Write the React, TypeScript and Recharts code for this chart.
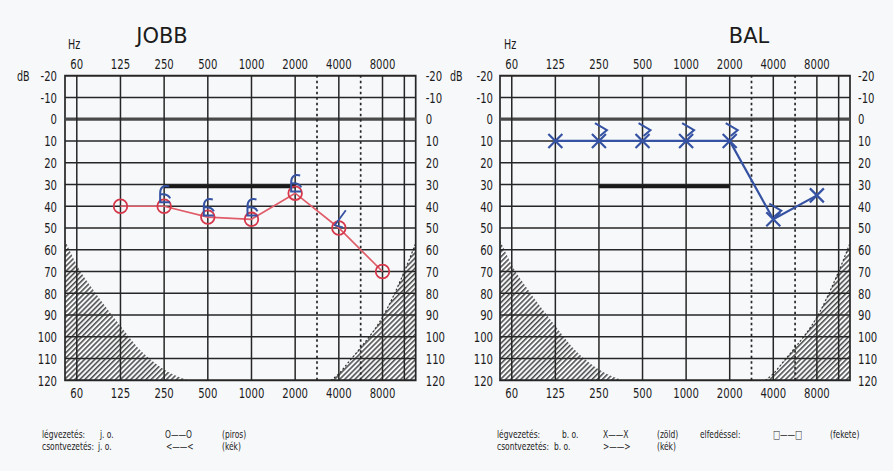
import React from 'react';
import { ComposedChart, Line, Area, XAxis, YAxis, ReferenceLine, ReferenceArea } from 'recharts';

// frequency axis: octave index, 60 Hz = 0 ... 8000 Hz = 7
const freqPos = [0, 1, 2, 3, 4, 5, 6, 7];
const freqLabels = ['60', '125', '250', '500', '1000', '2000', '4000', '8000'];
const halfOctaveDotted = [5.5, 6.5];
const halfOctaveSolid = [7.5];
const dbTicks = [-20, -10, 0, 10, 20, 30, 40, 50, 60, 70, 80, 90, 100, 110, 120];

// JOBB (right ear)
const jobbLegFreq = [1, 2, 3, 4, 5, 6, 7];
const jobbLegDb = [40, 40, 45, 46, 34, 50, 70];
const jobbCsontFedettFreq = [2, 3, 4, 5];
const jobbCsontFedettDb = [35, 41, 41, 30];
const jobbCsontFreq = [6];
const jobbCsontDb = [46];
const jobbSavFreq = [2, 5];
const jobbSavDb = [31, 31];

// BAL (left ear)
const balLegFreq = [1, 2, 3, 4, 5, 6, 7];
const balLegDb = [10, 10, 10, 10, 10, 46, 35];
const balCsontFreq = [2, 3, 4, 5, 6];
const balCsontDb = [5, 5, 5, 5, 42];
const balSavFreq = [2, 5];
const balSavDb = [31, 31];

// hatched regions
const hatchLowFreq = [-0.27, 0, 0.38, 1, 1.52, 2, 2.55];
const hatchLowDb = [55.5, 67, 78.5, 95, 107.5, 115, 120];
const hatchHighFreq = [5.82, 6, 6.25, 6.5, 7, 7.5, 7.76];
const hatchHighDb = [120, 117, 111, 105, 91, 70, 57];

const X_MIN = -0.27;
const X_MAX = 7.76;
const FONT = '"DejaVu Sans Condensed", "DejaVu Sans", sans-serif';
const SX = 0.76; // horizontal squeeze of the printed form's lettering
const INK = '#1c1c1c';
const GRID = '#262626';
const RED_LINE = '#e05c68';
const RED = '#d5384a';
const BLUE = '#3552a3';

const pts = (fx: number[], dbs: number[]) => fx.map((x, i) => ({ x, db: dbs[i] }));

const Narrow = ({ x, y, size, anchor = 'start', dy = 0, children }: any) => (
  <text
    transform={`translate(${x},${y}) scale(${SX},1)`}
    textAnchor={anchor}
    dy={dy}
    fontSize={size}
    fontFamily={FONT}
    fill={INK}
  >
    {children}
  </text>
);

const makeTick = (isFreq: boolean) => (p: any) => {
  const v = p.payload.value;
  const label = isFreq ? freqLabels[freqPos.indexOf(v)] ?? '' : String(v);
  const dy = p.verticalAnchor === 'start' ? '0.71em' : p.verticalAnchor === 'middle' ? '0.355em' : 0;
  return (
    <Narrow key={`t${v}`} x={p.x} y={p.y} size={14.8} anchor={p.textAnchor} dy={dy}>
      {label}
    </Narrow>
  );
};
const FreqTick = makeTick(true);
const DbTick = makeTick(false);

const Circle = (p: any) => (
  <circle key={`c${p.index}`} cx={p.cx} cy={p.cy} r={6.8} fill="none" stroke={RED} strokeWidth={1.8} />
);

const Cross = (p: any) => {
  const { cx, cy } = p;
  return (
    <path
      key={`x${p.index}`}
      d={`M${cx - 7} ${cy - 7} L${cx + 7} ${cy + 7} M${cx + 7} ${cy - 7} L${cx - 7} ${cy + 7}`}
      stroke={BLUE}
      strokeWidth={2.2}
      fill="none"
    />
  );
};

const Bracket = (p: any) => {
  const { cx, cy } = p;
  return (
    <path
      key={`b${p.index}`}
      d={`M${cx + 5} ${cy - 9} Q${cx - 4} ${cy - 11} ${cx - 4} ${cy - 2} L${cx - 4} ${cy + 7} L${cx + 6} ${cy + 7} M${cx - 4} ${cy - 1} Q${cx + 4} ${cy - 2} ${cx + 6} ${cy + 3}`}
      stroke={BLUE}
      strokeWidth={2}
      fill="none"
    />
  );
};

const Less = (p: any) => {
  const { cx, cy } = p;
  return (
    <path
      key={`l${p.index}`}
      d={`M${cx + 7} ${cy - 9} L${cx - 4} ${cy + 6} L${cx + 4} ${cy + 8}`}
      stroke={BLUE}
      strokeWidth={1.8}
      fill="none"
    />
  );
};

const Greater = (p: any) => {
  const { cx, cy } = p;
  return (
    <path
      key={`g${p.index}`}
      d={`M${cx - 4} ${cy - 7} L${cx + 8} ${cy} L${cx + 1} ${cy + 6}`}
      stroke={BLUE}
      strokeWidth={2}
      fill="none"
    />
  );
};

type Series = { fx: number[]; db: number[]; stroke: string; width: number; dot: any };

function Audiogram({
  id,
  ml,
  mr,
  lm,
  rm,
  lines,
  sav,
}: {
  id: string;
  ml: number;
  mr: number;
  lm: number;
  rm: number;
  lines: Series[];
  sav: number[][];
}) {
  return (
    <ComposedChart width={446} height={420} margin={{ top: 45.7, right: mr, bottom: 9.7, left: ml }}>
      <defs>
        <pattern id={id} width={3.6} height={3.6} patternUnits="userSpaceOnUse" patternTransform="rotate(45)">
          <line x1={0.8} y1={0} x2={0.8} y2={3.6} stroke={INK} strokeWidth={1.2} />
        </pattern>
      </defs>
      <XAxis
        xAxisId="top"
        orientation="top"
        type="number"
        dataKey="x"
        domain={[X_MIN, X_MAX]}
        ticks={freqPos}
        interval={0}
        axisLine={false}
        tickLine={false}
        tickSize={0}
        tickMargin={7}
        height={30}
        tick={FreqTick}
        allowDataOverflow
      />
      <XAxis
        type="number"
        dataKey="x"
        domain={[X_MIN, X_MAX]}
        ticks={freqPos}
        interval={0}
        axisLine={false}
        tickLine={false}
        tickSize={0}
        tickMargin={7}
        height={30}
        tick={FreqTick}
        allowDataOverflow
      />
      <YAxis
        type="number"
        domain={[-20, 120]}
        reversed
        ticks={dbTicks}
        interval={0}
        axisLine={false}
        tickLine={false}
        tickSize={0}
        tickMargin={lm}
        width={40}
        tick={DbTick}
        allowDataOverflow
      />
      <YAxis
        yAxisId="r"
        orientation="right"
        type="number"
        domain={[-20, 120]}
        reversed
        ticks={dbTicks}
        interval={0}
        axisLine={false}
        tickLine={false}
        tickSize={0}
        tickMargin={rm}
        width={30}
        tick={DbTick}
        allowDataOverflow
      />
      <Area
        data={pts(hatchLowFreq, hatchLowDb)}
        dataKey={(d: any) => [d.db, 120]}
        type="monotone"
        stroke="none"
        fill={`url(#${id})`}
        fillOpacity={1}
        isAnimationActive={false}
      />
      <Area
        data={pts(hatchHighFreq, hatchHighDb)}
        dataKey={(d: any) => [d.db, 120]}
        type="monotone"
        stroke="none"
        fill={`url(#${id})`}
        fillOpacity={1}
        isAnimationActive={false}
      />
      <Line
        data={pts(hatchHighFreq, hatchHighDb)}
        dataKey="db"
        type="monotone"
        stroke="#333"
        strokeWidth={1.2}
        strokeDasharray="2 2"
        dot={false}
        activeDot={false}
        isAnimationActive={false}
      />
      {/* keeps the top frequency axis bound to data */}
      <Line
        xAxisId="top"
        yAxisId="r"
        data={pts(hatchLowFreq, hatchLowDb)}
        dataKey="db"
        stroke="none"
        dot={false}
        activeDot={false}
        isAnimationActive={false}
      />
      {dbTicks.map((v) => (
        <ReferenceLine
          key={`h${v}`}
          y={v}
          stroke={v === 0 ? '#4a4a4a' : GRID}
          strokeWidth={v === 0 ? 3.2 : 1.5}
        />
      ))}
      {freqPos.concat(halfOctaveSolid).map((v) => (
        <ReferenceLine key={`v${v}`} x={v} stroke={GRID} strokeWidth={1.5} />
      ))}
      {halfOctaveDotted.map((v) => (
        <ReferenceLine key={`d${v}`} x={v} stroke={GRID} strokeWidth={1.7} strokeDasharray="2.5 3" />
      ))}
      <ReferenceArea x1={X_MIN} x2={X_MAX} y1={-20} y2={120} fill="none" stroke={GRID} strokeWidth={1.7} />
      <Line
        data={pts(sav[0], sav[1])}
        dataKey="db"
        stroke="#1a1a1a"
        strokeWidth={3.2}
        dot={false}
        activeDot={false}
        isAnimationActive={false}
      />
      {lines.map((s, i) => (
        <Line
          key={i}
          data={pts(s.fx, s.db)}
          dataKey="db"
          type="linear"
          stroke={s.stroke}
          strokeWidth={s.width}
          dot={s.dot}
          activeDot={false}
          isAnimationActive={false}
        />
      ))}
    </ComposedChart>
  );
}

export default function App() {
  const L = 11;
  const y1 = 437.5;
  const y2 = 449.5;
  return (
    <div style={{ position: 'absolute', left: 0, top: 0, width: 893, height: 471, background: '#f7f8fa', overflow: 'hidden' }}>
      <div style={{ position: 'absolute', left: 0, top: 0 }}>
        <Audiogram
          id="hatchJ"
          ml={25}
          mr={0.3}
          lm={8}
          rm={10}
          sav={[jobbSavFreq, jobbSavDb]}
          lines={[
            { fx: jobbLegFreq, db: jobbLegDb, stroke: RED_LINE, width: 1.7, dot: Circle },
            { fx: jobbCsontFedettFreq, db: jobbCsontFedettDb, stroke: 'none', width: 0, dot: Bracket },
            { fx: jobbCsontFreq, db: jobbCsontDb, stroke: 'none', width: 0, dot: Less },
          ]}
        />
      </div>
      <div style={{ position: 'absolute', left: 446, top: 0 }}>
        <Audiogram
          id="hatchB"
          ml={14}
          mr={12}
          lm={7}
          rm={8}
          sav={[balSavFreq, balSavDb]}
          lines={[
            { fx: balLegFreq, db: balLegDb, stroke: BLUE, width: 2.2, dot: Cross },
            { fx: balCsontFreq, db: balCsontDb, stroke: 'none', width: 0, dot: Greater },
          ]}
        />
      </div>
      <svg width={893} height={471} style={{ position: 'absolute', left: 0, top: 0, pointerEvents: 'none' }}>
        <text x={162} y={42.7} textAnchor="middle" fontSize={21} fontFamily='"DejaVu Sans", sans-serif' fill={INK}>
          JOBB
        </text>
        <text x={749} y={42.7} textAnchor="middle" fontSize={21} fontFamily='"DejaVu Sans", sans-serif' fill={INK}>
          BAL
        </text>
        <Narrow x={68} y={49} size={14}>Hz</Narrow>
        <Narrow x={504} y={49} size={14}>Hz</Narrow>
        <Narrow x={17} y={80.5} size={14}>dB</Narrow>
        <Narrow x={450} y={80.5} size={14}>dB</Narrow>

        <Narrow x={42} y={y1} size={L}>légvezetés:</Narrow>
        <Narrow x={100} y={y1} size={L}>j. o.</Narrow>
        <Narrow x={165} y={y1} size={L}>O——O</Narrow>
        <Narrow x={222} y={y1} size={L}>(piros)</Narrow>
        <Narrow x={42} y={y2} size={L}>csontvezetés:</Narrow>
        <Narrow x={98} y={y2} size={L}>j. o.</Narrow>
        <Narrow x={166} y={y2} size={L}>&lt;——&lt;</Narrow>
        <Narrow x={222} y={y2} size={L}>(kék)</Narrow>

        <Narrow x={497} y={y1} size={L}>légvezetés:</Narrow>
        <Narrow x={562} y={y1} size={L}>b. o.</Narrow>
        <Narrow x={603} y={y1} size={L}>X——X</Narrow>
        <Narrow x={657} y={y1} size={L}>(zöld)</Narrow>
        <Narrow x={700} y={y1} size={L}>elfedéssel:</Narrow>
        <Narrow x={773} y={y1} size={L}>□——□</Narrow>
        <Narrow x={830} y={y1} size={L}>(fekete)</Narrow>
        <Narrow x={497} y={y2} size={L}>csontvezetés:</Narrow>
        <Narrow x={554} y={y2} size={L}>b. o.</Narrow>
        <Narrow x={603} y={y2} size={L}>&gt;——&gt;</Narrow>
        <Narrow x={657} y={y2} size={L}>(kék)</Narrow>
      </svg>
    </div>
  );
}
